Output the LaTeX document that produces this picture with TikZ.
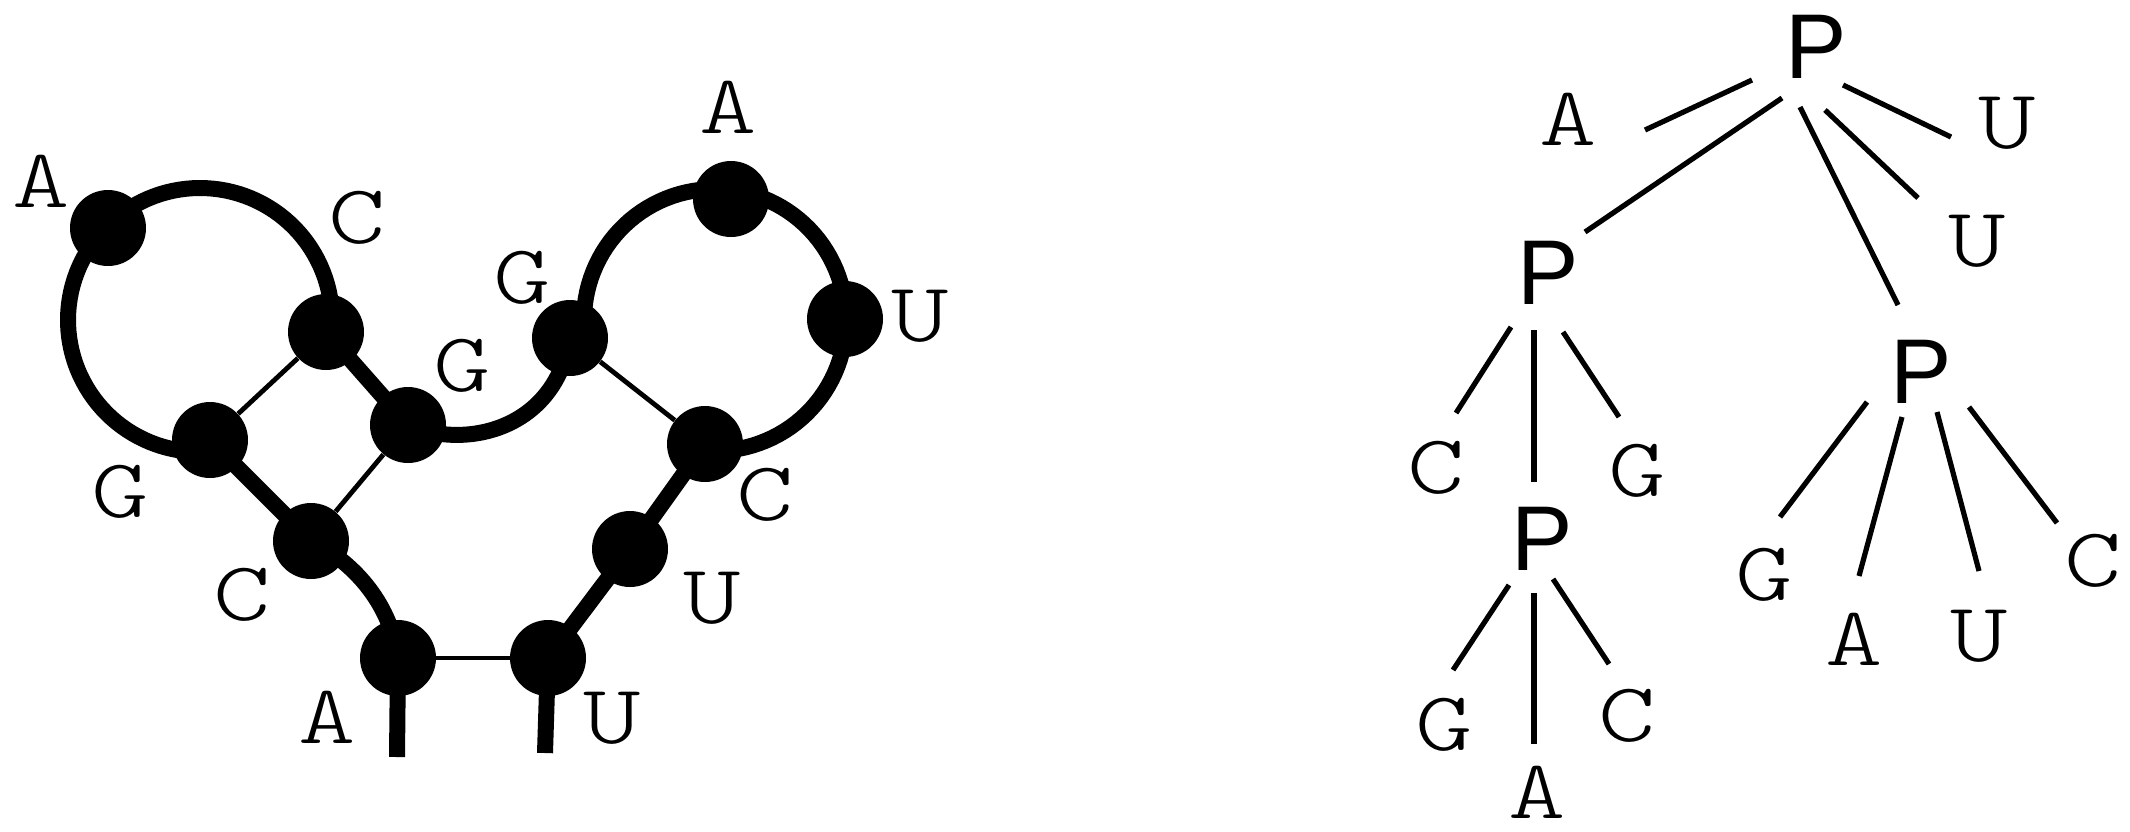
\documentclass[tikz,border=0pt]{standalone}
\usepackage{fontspec}
\usetikzlibrary{backgrounds}
\newfontfamily\pfont{Liberation Sans}
\newfontfamily\lmlight{Latin Modern Mono Light}
\newcommand\wl[1]{\scalebox{1.3}[1]{#1}}
\begin{document}
\begin{tikzpicture}[x=0.5pt,y=-0.5pt,
  base/.style={circle,fill=black,minimum size=38pt,inner sep=0pt},
  thickline/.style={line width=8pt},
  thinline/.style={line width=2.4pt},
  lbl/.style={font=\lmlight\fontsize{42}{48}\selectfont,anchor=base,inner sep=0pt},
  pn/.style={font=\pfont\fontsize{46}{52}\selectfont,anchor=base,inner sep=0pt},
  edge/.style={line width=2.6pt}]
\useasboundingbox (0,0) rectangle (2130,831);
% ---------- left: RNA secondary structure ----------
\node[base] (A1) at (108,228) {};
\node[base] (C1) at (326,332) {};
\node[base] (G1) at (210,440) {};
\node[base] (G2) at (408,425) {};
\node[base] (C2) at (311,541) {};
\node[base] (A2) at (398,658) {};
\node[base] (U1) at (548,658) {};
\node[base] (U3) at (630,549) {};
\node[base] (C3) at (705,444) {};
\node[base] (G3) at (570,338) {};
\node[base] (A3) at (731,199) {};
\node[base] (U2) at (845,319) {};
\coordinate (sA) at (397,757);
\coordinate (sU) at (545,753);
\begin{scope}[on background layer]
  \draw[thickline] (C1.center) -- plot[domain=10:265,samples=90,variable=\t] ({200+132*cos(\t)},{320-132*sin(\t)}) -- (G1.center);
  \draw[thickline] (C3.center) -- plot[domain=-95:180,samples=90,variable=\t] ({715+131*cos(\t)},{320-131*sin(\t)}) -- (G3.center);
  \draw[thickline] (G2.center) .. controls (465,450) and (555,430) .. (G3.center);
  \draw[thickline] (C2.center) .. controls (350,560) and (390,600) .. (A2.center);
  \draw[thickline] (C1.center) -- (G2.center);
  \draw[thickline] (G1.center) -- (C2.center);
  \draw[thickline] (U1.center) -- (U3.center) -- (C3.center);
  \draw[thickline] (A2.center) -- (sA);
  \draw[thickline] (U1.center) -- (sU);
  \draw[thinline] (C1) -- (G1);
  \draw[thinline] (G2) -- (C2);
  \draw[thinline] (G3) -- (C3);
  \draw[thinline] (A2) -- (U1);
\end{scope}
\node[lbl] (lA1) at (41,207) {\wl{A}};
\node[lbl] (lC1) at (357,243) {\wl{C}};
\node[lbl] (lG2) at (462,391) {\wl{G}};
\node[lbl] (lG1) at (120,517) {\wl{G}};
\node[lbl] (lC2) at (242,620) {\wl{C}};
\node[lbl] (lA2) at (327,743) {\wl{A}};
\node[lbl] (lU1) at (612,743) {\wl{U}};
\node[lbl] (lG3) at (522,303) {\wl{G}};
\node[lbl] (lA3) at (728,133) {\wl{A}};
\node[lbl] (lU2) at (920,341) {\wl{U}};
\node[lbl] (lC3) at (765,520) {\wl{C}};
\node[lbl] (lU3) at (712,623) {\wl{U}};
% ---------- right: tree ----------
\node[pn] (P0) at (1816,78) {P};
\node[pn] (P1) at (1548,304) {P};
\node[pn] (P2) at (1921,403) {P};
\node[pn] (P3) at (1542,570) {P};
\node[lbl] (tA0) at (1568,145) {\wl{A}};
\node[lbl] (tU0) at (2007,148) {\wl{U}};
\node[lbl] (tU1) at (1977,266) {\wl{U}};
\node[lbl] (tC1) at (1436,493) {\wl{C}};
\node[lbl] (tG1) at (1637,496) {\wl{G}};
\node[lbl] (tG3) at (1444,750) {\wl{G}};
\node[lbl] (tC3) at (1627,741) {\wl{C}};
\node[lbl] (tA3) at (1537,818) {\wl{A}};
\node[lbl] (tG2) at (1764,600) {\wl{G}};
\node[lbl] (tA2) at (1854,665) {\wl{A}};
\node[lbl] (tU2) at (1979,661) {\wl{U}};
\node[lbl] (tC2) at (2093,586) {\wl{C}};
\draw[edge] ([shift={(-64,2)}]P0.base) -- ([shift={(77,-15)}]tA0.base);
\draw[edge] ([shift={(-34,20)}]P0.base) -- ([shift={(37,-72)}]P1.base);
\draw[edge] ([shift={(-16,29)}]P0.base) -- ([shift={(-23,-98)}]P2.base);
\draw[edge] ([shift={(9,32)}]P0.base) -- ([shift={(-59,-68)}]tU1.base);
\draw[edge] ([shift={(27,7)}]P0.base) -- ([shift={(-56,-11)}]tU0.base);
\draw[edge] ([shift={(-37,23)}]P1.base) -- ([shift={(20,-80)}]tC1.base);
\draw[edge] ([shift={(-14,26)}]P1.base) -- ([shift={(-8,-88)}]P3.base);
\draw[edge] ([shift={(15,28)}]P1.base) -- ([shift={(-18,-79)}]tG1.base);
\draw[edge] ([shift={(-33,15)}]P3.base) -- ([shift={(9,-80)}]tG3.base);
\draw[edge] ([shift={(-8,23)}]P3.base) -- ([shift={(-3,-74)}]tA3.base);
\draw[edge] ([shift={(11,9)}]P3.base) -- ([shift={(-18,-77)}]tC3.base);
\draw[edge] ([shift={(-54,-1)}]P2.base) -- ([shift={(16,-83)}]tG2.base);
\draw[edge] ([shift={(-19,14)}]P2.base) -- ([shift={(5,-89)}]tA2.base);
\draw[edge] ([shift={(16,9)}]P2.base) -- ([shift={(0,-90)}]tU2.base);
\draw[edge] ([shift={(48,4)}]P2.base) -- ([shift={(-36,-63)}]tC2.base);
\end{tikzpicture}
\end{document}
